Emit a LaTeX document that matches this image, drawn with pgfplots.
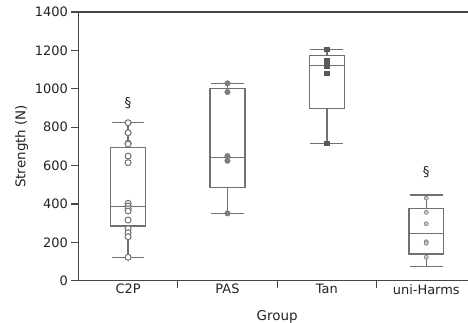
\documentclass[border=0pt]{standalone}
\usepackage{fontspec}
\setmainfont{DejaVu Sans}
\usepackage{pgfplots}
\pgfplotsset{compat=1.18}
\usepgfplotslibrary{statistics}
\definecolor{boxgray}{RGB}{112,112,112}
\definecolor{axgray}{RGB}{70,70,70}
\definecolor{txtgray}{RGB}{35,35,35}
\begin{document}
\begin{tikzpicture}
\useasboundingbox (-78.4bp,-42.3bp) rectangle (389.6bp,280.7bp);
\begin{axis}[
  at={(0,0)}, anchor=south west,
  scale only axis, width=389.6bp, height=268.7bp,
  xmin=-0.5, xmax=3.42, ymin=0, ymax=1400,
  axis x line*=box, axis y line*=left,
  xtick pos=bottom, ytick pos=left,
  ytick={0,200,...,1400},
  xtick={0.5,1.5,2.5}, xticklabels={},
  extra x ticks={0,1,2,3},
  extra x tick labels={C2P,PAS,Tan,uni-Harms},
  extra x tick style={major tick length=0pt},
  tick align=outside,
  major tick length=7bp,
  tick style={axgray, line width=1.2bp},
  axis line style={axgray, line width=1.3bp},
  ylabel={Strength (N)}, xlabel={Group},
  label style={font=\fontsize{13.5}{15}\selectfont, text=txtgray},
  tick label style={font=\fontsize{13}{15}\selectfont, text=txtgray},
  /pgf/number format/assume math mode=true,
  yticklabel style={/pgf/number format/1000 sep={}},
  x label style={at={(ticklabel cs:0.51)}, yshift=-2bp},
  boxplot/draw direction=y,
  boxplot/box extend=0.35,
  boxplot/whisker extend=0.33,
]
% box statistics
\addplot[boxgray, line width=1.3bp, boxplot prepared={draw position=0, lower whisker=122, lower quartile=285, median=385, upper quartile=695, upper whisker=823}] coordinates {};
\addplot[boxgray, line width=1.3bp, boxplot prepared={draw position=1, lower whisker=351, lower quartile=486, median=643, upper quartile=1002, upper whisker=1028}] coordinates {};
\addplot[boxgray, line width=1.3bp, boxplot prepared={draw position=2, lower whisker=716, lower quartile=898, median=1123, upper quartile=1175, upper whisker=1205}] coordinates {};
\addplot[boxgray, line width=1.3bp, boxplot prepared={draw position=3, lower whisker=73, lower quartile=139, median=247, upper quartile=377, upper whisker=446}] coordinates {};
% individual points
\addplot[only marks, mark=*, mark size=3bp, mark options={draw=boxgray, fill=white, line width=1bp}] coordinates {
(0,823) (0,771) (0,716) (0,712) (0,649) (0,615) (0,403) (0,389) (0,375) (0,363) (0,316) (0,271) (0,250) (0,229) (0,122)};
\addplot[only marks, mark=*, mark size=2.8bp, mark options={draw=boxgray!90, fill=boxgray!90}] coordinates {
(1,1028) (1,983) (1,649) (1,625) (1,351)};
\addplot[only marks, mark=square*, mark size=2.2bp, mark options={draw=black!65, fill=black!65}] coordinates {
(2,1205) (2,1146) (2,1132) (2,1118) (2,1080) (2,716)};
\addplot[only marks, mark=*, mark size=2bp, mark options={draw=boxgray!80, fill=black!20, line width=0.8bp}] coordinates {
(3,430) (3,356) (3,297) (3,203) (3,195) (3,122)};
\node[text=txtgray, font=\fontsize{13.5}{15}\selectfont] at (axis cs:0,923) {\S};
\node[text=txtgray, font=\fontsize{13.5}{15}\selectfont] at (axis cs:3,563) {\S};
\end{axis}
\end{tikzpicture}
\end{document}
